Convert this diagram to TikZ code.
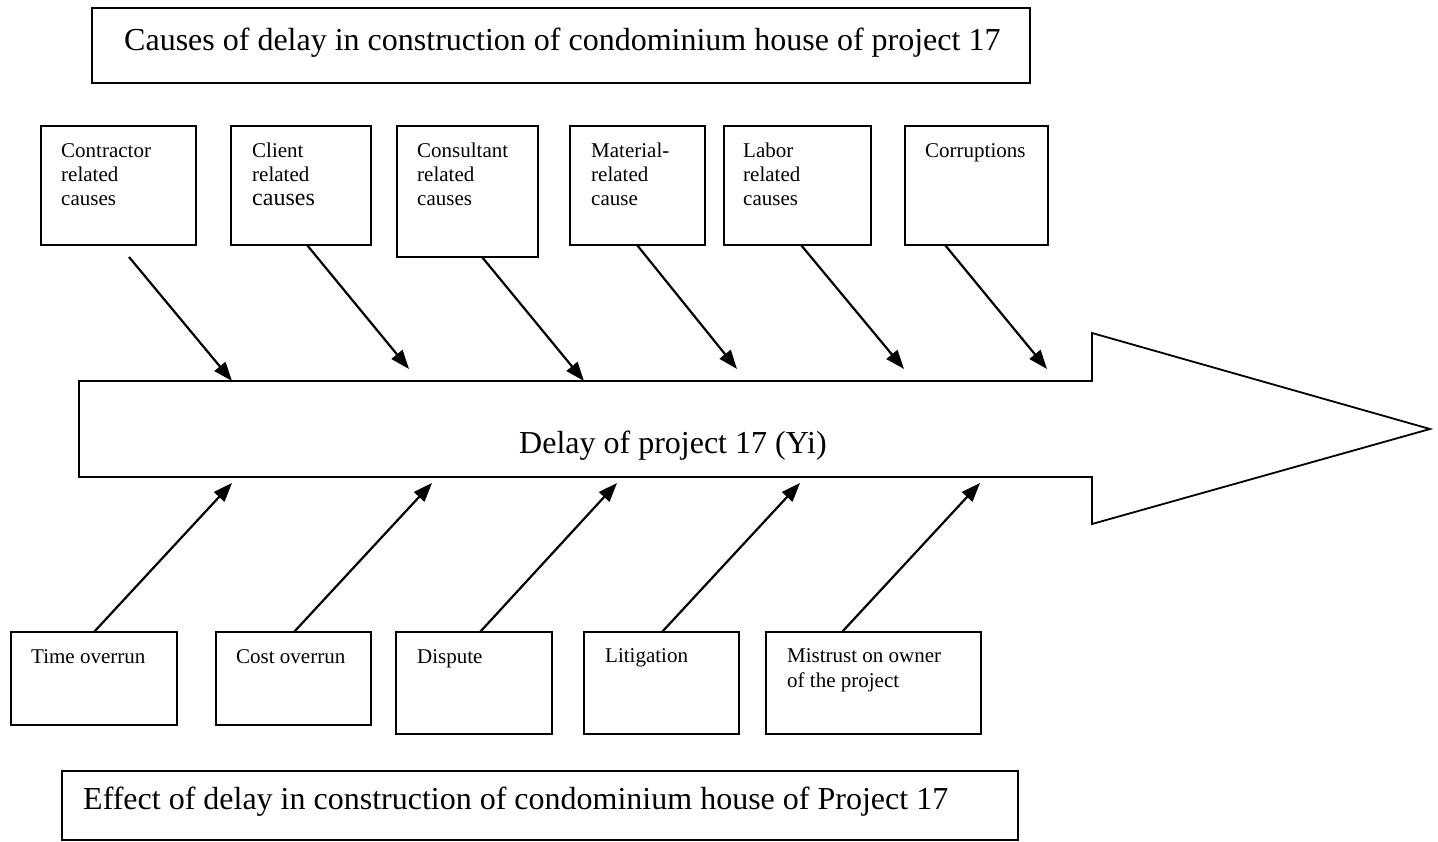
\documentclass[tikz,border=0pt]{standalone}
\usepackage{fontspec}
\setmainfont{Liberation Serif}
\usetikzlibrary{arrows.meta}
\begin{document}
\begin{tikzpicture}[x=1pt,y=-1pt,
  boxst/.style={draw=black,line width=1.8pt,inner sep=0pt,outer sep=0pt,fill=white},
  bigtxt/.style={anchor=base west,inner sep=0pt,font=\fontsize{32}{36}\selectfont},
  smalltxt/.style={anchor=base west,inner sep=0pt,font=\fontsize{21}{24.4}\selectfont},
  fishbone/.style={draw=black,line width=2.2pt,-{Triangle[length=19pt,width=14pt]}},
  spine/.style={draw=black,line width=1.8pt,fill=white,line join=miter}]
\useasboundingbox (0,0) rectangle (1438,841);
% title boxes
\node[boxst,minimum width=938pt,minimum height=75pt] (title) at (561,45.5) {};
\node[bigtxt] (titletxt) at (124,50) {Causes of delay in construction of condominium house of project 17};
\node[boxst,minimum width=956pt,minimum height=69pt] (effect) at (540,805.5) {};
\node[bigtxt] (effecttxt) at (83,809) {Effect of delay in construction of condominium house of Project 17};
% central arrow
\draw[spine] (79,381) -- (1092,381) -- (1092,333) -- (1430,429) -- (1092,524) -- (1092,477) -- (79,477) -- cycle;
\node[bigtxt] (delay) at (519,453) {Delay of project 17 (Yi)};
% cause boxes
\node[boxst,minimum width=155pt,minimum height=119pt] (contractor) at (118.5,185.5) {};
\node[boxst,minimum width=140pt,minimum height=119pt] (client) at (301,185.5) {};
\node[boxst,minimum width=141pt,minimum height=131pt] (consultant) at (467.5,191.5) {};
\node[boxst,minimum width=135pt,minimum height=119pt] (material) at (637.5,185.5) {};
\node[boxst,minimum width=147pt,minimum height=119pt] (labor) at (797.5,185.5) {};
\node[boxst,minimum width=143pt,minimum height=119pt] (corrupt) at (976.5,185.5) {};
\node[smalltxt] (t1) at (61,157) {\parbox[t]{130pt}{\raggedright Contractor\\related\\causes}};
\node[smalltxt] (t2) at (252,157) {\parbox[t]{120pt}{\raggedright Client\\related\\{\fontsize{24}{24.4}\selectfont causes}}};
\node[smalltxt] (t3) at (417,157) {\parbox[t]{120pt}{\raggedright Consultant\\related\\causes}};
\node[smalltxt] (t4) at (591,157) {\parbox[t]{120pt}{\raggedright Material-\\related\\cause}};
\node[smalltxt] (t5) at (743,157) {\parbox[t]{120pt}{\raggedright Labor\\related\\causes}};
\node[smalltxt] (t6) at (925,157) {Corruptions};
% effect boxes
\node[boxst,minimum width=166pt,minimum height=93pt] (time) at (94,678.5) {};
\node[boxst,minimum width=155pt,minimum height=93pt] (cost) at (293.5,678.5) {};
\node[boxst,minimum width=156pt,minimum height=102pt] (dispute) at (474,683) {};
\node[boxst,minimum width=155pt,minimum height=102pt] (litig) at (661.5,683) {};
\node[boxst,minimum width=215pt,minimum height=102pt] (mistrust) at (873.5,683) {};
\node[smalltxt] (b1) at (31,663) {Time overrun};
\node[smalltxt] (b2) at (236,663) {Cost overrun};
\node[smalltxt] (b3) at (417,663) {Dispute};
\node[smalltxt] (b4) at (605,662) {Litigation};
\node[smalltxt] (b5) at (787,662) {\parbox[t]{190pt}{\fontsize{21}{25.8}\selectfont\raggedright Mistrust on owner\\of the project}};
% arrow end points
\coordinate (c1s) at (129,257);  \coordinate (c1e) at (232,381);
\coordinate (c2s) at (307,245);  \coordinate (c2e) at (409,369);
\coordinate (c3s) at (482,257);  \coordinate (c3e) at (584,381);
\coordinate (c4s) at (637,245);  \coordinate (c4e) at (737,369);
\coordinate (c5s) at (801,245);  \coordinate (c5e) at (904,369);
\coordinate (c6s) at (945,245);  \coordinate (c6e) at (1047,369);
\coordinate (e1s) at (94,632);   \coordinate (e1e) at (232,483);
\coordinate (e2s) at (294,632);  \coordinate (e2e) at (432,483);
\coordinate (e3s) at (480,632);  \coordinate (e3e) at (617,483);
\coordinate (e4s) at (662,632);  \coordinate (e4e) at (800,483);
\coordinate (e5s) at (842,632);  \coordinate (e5e) at (980,483);
\draw[fishbone] (c1s) -- (c1e);
\draw[fishbone] (c2s) -- (c2e);
\draw[fishbone] (c3s) -- (c3e);
\draw[fishbone] (c4s) -- (c4e);
\draw[fishbone] (c5s) -- (c5e);
\draw[fishbone] (c6s) -- (c6e);
\draw[fishbone] (e1s) -- (e1e);
\draw[fishbone] (e2s) -- (e2e);
\draw[fishbone] (e3s) -- (e3e);
\draw[fishbone] (e4s) -- (e4e);
\draw[fishbone] (e5s) -- (e5e);
\end{tikzpicture}
\end{document}
